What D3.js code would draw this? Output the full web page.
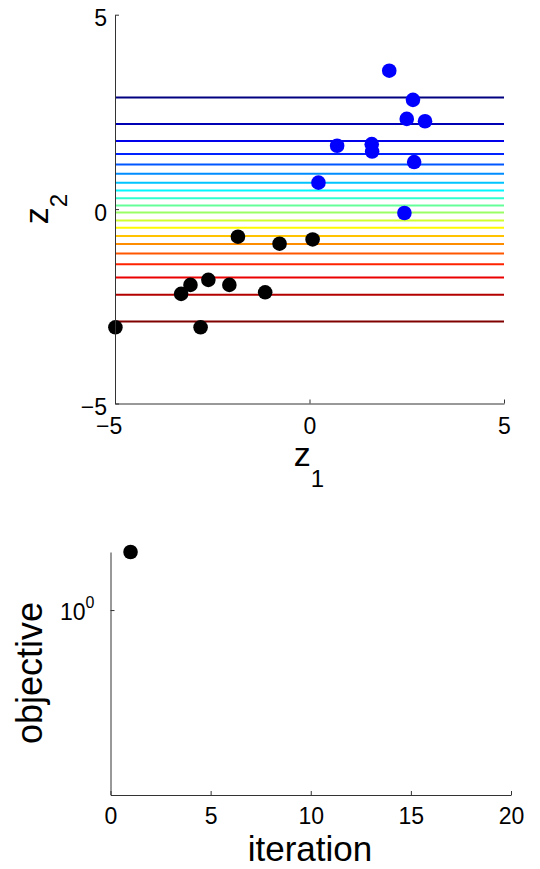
<!DOCTYPE html>
<html>
<head>
<meta charset="utf-8">
<script src="https://cdn.jsdelivr.net/npm/d3@7"></script>
<style>
  html, body { margin: 0; padding: 0; background: #fff; }
  svg { display: block; font-family: "Liberation Sans", Arial, Helvetica, sans-serif; }
</style>
</head>
<body>
<div id="chart"></div>
<script>
// contour levels of z2 (top to bottom)
const levels = [2.87, 2.19, 1.75, 1.42, 1.15, 0.91, 0.68, 0.48, 0.28, 0.09,
  -0.09, -0.29, -0.48, -0.69, -0.90, -1.14, -1.42, -1.76, -2.20, -2.89];

const blue_z1 = [2.05, 2.66, 2.50, 2.97, 0.71, 1.60, 1.61, 2.69, 0.23, 2.44];
const blue_z2 = [3.56, 2.81, 2.32, 2.26, 1.63, 1.67, 1.48, 1.21, 0.68, -0.10];

const black_z1 = [-1.84, -0.77, 0.08, -2.60, -3.06, -2.06, -3.30, -1.14, -4.99, -2.80];
const black_z2 = [-0.71, -0.89, -0.78, -1.82, -1.95, -1.95, -2.18, -2.14, -3.04, -3.04];

const z_ticks = [-5, 0, 5];

const iterations = [1];
const objective = [2.06];
const iter_ticks = [0, 5, 10, 15, 20];
const obj_ticks = [1];

const WIDTH = 540;
const HEIGHT = 869;
const TICK_FONT = '23px';
const LABEL_FONT = '34px';
const AXIS_COLOR = '#333';

// MATLAB jet
const jet = d3.scaleLinear()
  .domain([0, 0.125, 0.375, 0.625, 0.875, 1])
  .range(['#000080', '#0000ff', '#00ffff', '#ffff00', '#ff0000', '#800000']);

let svg = d3.select('#chart').append('svg')
  .attr('width', WIDTH)
  .attr('height', HEIGHT);

let style_axis = (g) => {
  g.select('.domain').attr('stroke', AXIS_COLOR);
  g.selectAll('.tick line').attr('stroke', AXIS_COLOR);
  g.selectAll('.tick text')
    .attr('fill', '#000')
    .style('font-size', TICK_FONT)
    .style('font-family', '"Liberation Sans", Arial, sans-serif');
};

// ---------- top panel ----------
let x = d3.scaleLinear().domain([-5, 5]).range([115, 504]);
let y = d3.scaleLinear().domain([-5, 5]).range([403.5, 14.7]);

let upper = svg.append('g');

upper.selectAll('.level')
  .data(levels)
  .enter().append('line')
  .attr('class', 'level')
  .attr('x1', x(-5))
  .attr('x2', x(5))
  .attr('y1', (d) => y(d))
  .attr('y2', (d) => y(d))
  .attr('stroke', (d, i) => jet(i / (levels.length - 1)))
  .attr('stroke-width', 2)
;

upper.selectAll('.blue')
  .data(blue_z1)
  .enter().append('circle')
  .attr('cx', (d) => x(d))
  .attr('cy', (d, i) => y(blue_z2[i]))
  .attr('r', 7.3)
  .attr('fill', '#0000ff')
;

upper.selectAll('.black')
  .data(black_z1)
  .enter().append('circle')
  .attr('cx', (d) => x(d))
  .attr('cy', (d, i) => y(black_z2[i]))
  .attr('r', 7.3)
  .attr('fill', '#000')
;

upper.append('g')
  .attr('transform', `translate(0, ${y(-5)})`)
  .call(d3.axisBottom(x).tickValues(z_ticks).tickSizeInner(-4).tickSizeOuter(0).tickPadding(14))
  .call(style_axis)
  // minus sign hangs to the left, digit stays on the tick
  .call((g) => g.selectAll('.tick text').attr('dx', (d) => d < 0 ? '-0.28em' : 0))
;

upper.append('g')
  .attr('transform', `translate(${x(-5)}, 0)`)
  .call(d3.axisLeft(y).tickValues(z_ticks).tickSizeInner(-4).tickSizeOuter(0).tickPadding(8))
  .call(style_axis)
  .call((g) => g.selectAll('.tick text').attr('dy', '0.48em'))
;

let xlab = upper.append('text')
  .attr('x', 309)
  .attr('y', 466)
  .attr('text-anchor', 'middle')
  .style('font-size', LABEL_FONT)
  .text('z');
xlab.append('tspan').attr('dy', 21).style('font-size', '24px').text('1');

let ylab = upper.append('text')
  .attr('transform', 'translate(48, 209) rotate(-90)')
  .attr('text-anchor', 'middle')
  .style('font-size', LABEL_FONT)
  .text('z');
ylab.append('tspan').attr('dy', 19).style('font-size', '24px').text('2');

// ---------- bottom panel ----------
let xi = d3.scaleLinear().domain([0, 20]).range([110.5, 511]);
let yo = d3.scaleLog().domain([0.1, 2.06]).range([795, 552]);

let lower = svg.append('g');

lower.selectAll('.obj')
  .data(iterations)
  .enter().append('circle')
  .attr('cx', (d) => xi(d))
  .attr('cy', (d, i) => yo(objective[i]))
  .attr('r', 7.3)
  .attr('fill', '#000')
;

lower.append('g')
  .attr('transform', `translate(0, ${yo(0.1)})`)
  .call(d3.axisBottom(xi).tickValues(iter_ticks).tickSizeInner(-4).tickSizeOuter(0).tickPadding(13))
  .call(style_axis)
;

lower.append('g')
  .attr('transform', `translate(${xi(0)}, 0)`)
  .call(d3.axisLeft(yo).tickValues(obj_ticks).tickFormat(() => '10').tickSizeInner(-4).tickSizeOuter(0).tickPadding(16))
  .call(style_axis)
  .call((g) => {
    g.selectAll('.tick text')
      .attr('dy', '0.4em')
      .append('tspan')
      .attr('dy', -12)
      .style('font-size', '16px')
      .text('0');
  })
;

lower.append('text')
  .attr('x', 310)
  .attr('y', 861)
  .attr('text-anchor', 'middle')
  .style('font-size', '35px')
  .text('iteration');

lower.append('text')
  .attr('transform', 'translate(42, 673) rotate(-90)')
  .attr('text-anchor', 'middle')
  .style('font-size', '36px')
  .text('objective');
</script>
</body>
</html>
